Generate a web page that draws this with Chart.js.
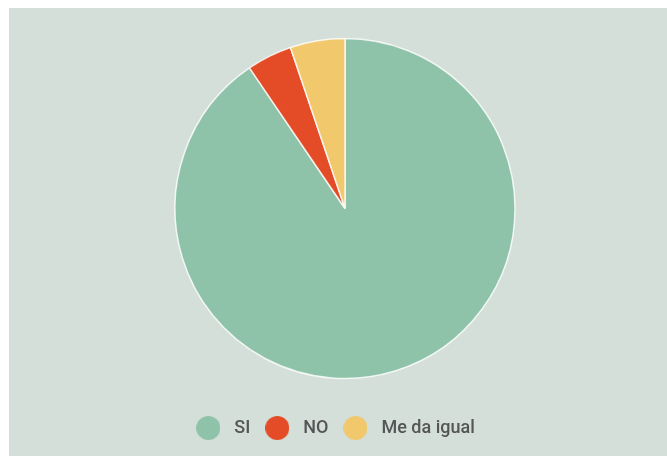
<!DOCTYPE html>
<html>
<head>
<meta charset="utf-8">
<script src="https://cdn.jsdelivr.net/npm/chart.js@4"></script>
<style>
    html, body { margin: 0; padding: 0; background: #fff; }
    #wrap { position: absolute; left: 9px; top: 8px; width: 658px; height: 448px; background: #d4dfd9; }
</style>
</head>
<body>
<div id="wrap"><canvas id="chart"></canvas></div>
<script>
const labels = ['SI', 'NO', 'Me da igual'];
const values = [90.5, 4.3, 5.2];
const colors = ['#8ec3a9', '#e34c26', '#f1c86c'];

// circulitos de la leyenda
function dot(color) {
    const c = document.createElement('canvas');
    c.width = 24;
    c.height = 24;
    const g = c.getContext('2d');
    g.fillStyle = color;
    g.beginPath();
    g.arc(12, 12, 12, 0, Math.PI * 2);
    g.fill();
    return c;
}
const dots = colors.map(dot);

const ctx = document.getElementById('chart').getContext('2d');
new Chart(ctx, {
    type: 'pie',
    data: {
        labels: labels,
        datasets: [{
            data: values,
            backgroundColor: colors,
            borderColor: 'rgba(255,255,255,0.8)',
            borderWidth: 1.5,
            radius: 170
        }]
    },
    options: {
        responsive: true,
        maintainAspectRatio: false,
        animation: false,
        layout: { padding: { left: 14, top: 0, bottom: 9 } },
        plugins: {
            tooltip: { enabled: false },
            legend: {
                position: 'bottom',
                labels: {
                    usePointStyle: true,
                    pointStyleWidth: 34,
                    padding: 10,
                    color: '#555',
                    font: { family: 'Roboto', size: 18, weight: '500' },
                    generateLabels: function(chart) {
                        return chart.data.labels.map((text, i) => ({
                            text: text,
                            fillStyle: colors[i],
                            strokeStyle: colors[i],
                            lineWidth: 0,
                            pointStyle: dots[i],
                            fontColor: '#555',
                            hidden: false,
                            index: i
                        }));
                    }
                }
            }
        }
    },
    plugins: [{
        id: 'legendShift',
        afterLayout(chart) {
            chart.legend.left -= 12;
            chart.legend.right -= 12;
        }
    }]
});
</script>
</body>
</html>
